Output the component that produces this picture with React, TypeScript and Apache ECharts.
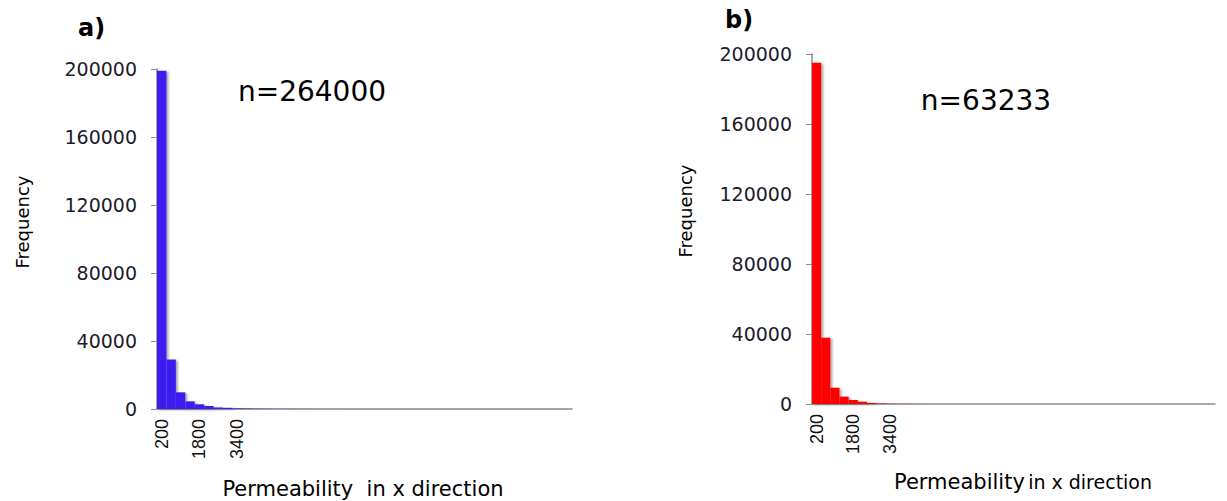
import React, { useEffect, useRef } from "react";
import * as echarts from "echarts";

const binLabels = [
  "200", "600", "1000", "1400", "1800", "2200", "2600", "3000", "3400", "3800",
  "4200", "4600", "5000", "5400", "5800", "6200", "6600", "7000", "7400", "7800",
  "8200", "8600", "9000", "9400", "9800", "10200", "10600", "11000", "11400", "11800",
  "12200", "12600", "13000", "13400", "13800", "14200", "14600", "15000", "15400", "15800",
  "16200", "16600", "17000", "17400",
];
const shownTicks = ["200", "1800", "3400"];

const freqA = [
  199000, 29100, 9800, 4500, 2750, 1750, 900, 700, 400, 300,
  200, 150, 100, 80, 60, 50, 40, 30, 20, 20,
  10, 10, 0, 0, 0, 0, 0, 0, 0, 0,
  0, 0, 0, 0, 0, 0, 0, 0, 0, 0,
  0, 0, 0, 0,
];
const freqB = [
  195000, 37900, 9300, 4200, 2300, 1300, 600, 300, 150, 100,
  60, 40, 20, 10, 0, 0, 0, 0, 0, 0,
  0, 0, 0, 0, 0, 0, 0, 0, 0, 0,
  0, 0, 0, 0, 0, 0, 0, 0, 0, 0,
  0, 0, 0, 0,
];

const FONT = "DejaVu Sans";

export default function App() {
  const ref = useRef<HTMLDivElement>(null);
  useEffect(() => {
    if (!ref.current) return;
    const chart = echarts.init(ref.current, null, { renderer: "svg" });
    const xAxisCommon = (gridIndex: number) => ({
      type: "category" as const,
      gridIndex,
      data: binLabels,
      axisLine: { lineStyle: { color: "#8a8a8a", width: 1.5 } },
      axisTick: { show: false },
      axisLabel: {
        interval: 0,
        rotate: 90,
        margin: 10,
        fontFamily: "Liberation Sans",
        fontSize: 18,
        color: "#111",
        formatter: (v: string) => (shownTicks.includes(v) ? v : ""),
      },
    });
    const yAxisCommon = (gridIndex: number) => ({
      type: "value" as const,
      gridIndex,
      min: 0,
      max: 200000,
      interval: 40000,
      splitLine: { show: false },
      axisLine: { show: true, lineStyle: { color: "#8a8a8a", width: 1.5 } },
      axisTick: { show: true, length: 6, lineStyle: { color: "#8a8a8a" } },
      axisLabel: {
        margin: 20,
        fontFamily: FONT,
        fontSize: 19,
        color: "#1c1c2c",
        formatter: (v: number) => String(v),
      },
    });
    const barStyle = (color: string) => ({
      color,
      shadowColor: "rgba(0,0,0,0.35)",
      shadowBlur: 2,
      shadowOffsetX: 2,
      shadowOffsetY: 1,
    });
    chart.setOption({
      animation: false,
      backgroundColor: "#ffffff",
      grid: [
        { left: 157, top: 69, width: 415, height: 340 },
        { left: 812, top: 54, width: 403, height: 350 },
      ],
      xAxis: [xAxisCommon(0), xAxisCommon(1)],
      yAxis: [yAxisCommon(0), yAxisCommon(1)],
      series: [
        {
          type: "bar",
          xAxisIndex: 0,
          yAxisIndex: 0,
          data: freqA,
          barCategoryGap: "0%",
          itemStyle: barStyle("#3d1ff0"),
        },
        {
          type: "bar",
          xAxisIndex: 1,
          yAxisIndex: 1,
          data: freqB,
          barCategoryGap: "0%",
          itemStyle: barStyle("#ff0000"),
        },
      ],
      graphic: [
        { type: "text", left: 78, top: 16, style: { text: "a)", font: `bold 24px '${FONT}'`, fill: "#000" } },
        { type: "text", left: 725, top: 8, style: { text: "b)", font: `bold 24px '${FONT}'`, fill: "#000" } },
        { type: "text", x: 312, y: 91, style: { text: "n=264000", font: `28px '${FONT}'`, fill: "#000", align: "center", verticalAlign: "middle" } },
        { type: "text", x: 986, y: 100, style: { text: "n=63233", font: `28px '${FONT}'`, fill: "#000", align: "center", verticalAlign: "middle" } },
        { type: "text", x: 22, y: 222, rotation: Math.PI / 2, style: { text: "Frequency", font: `18px '${FONT}'`, fill: "#000", align: "center", verticalAlign: "middle" } },
        { type: "text", x: 685, y: 211, rotation: Math.PI / 2, style: { text: "Frequency", font: `18px '${FONT}'`, fill: "#000", align: "center", verticalAlign: "middle" } },
        { type: "text", x: 363, y: 489, style: { text: "Permeability  in x direction", font: `21px '${FONT}'`, fill: "#000", align: "center", verticalAlign: "middle" } },
        {
          type: "text",
          x: 1023,
          y: 482,
          style: {
            text: "{a|Permeability} {b|in x direction}",
            fill: "#000",
            align: "center",
            verticalAlign: "middle",
            rich: {
              a: { fontFamily: FONT, fontSize: 21, fill: "#000" },
              b: { fontFamily: FONT, fontSize: 19, fill: "#000" },
            },
          },
        },
      ],
    });
    return () => chart.dispose();
  }, []);
  return <div ref={ref} style={{ position: "fixed", left: 0, top: 0, width: 1227, height: 501 }} />;
}
